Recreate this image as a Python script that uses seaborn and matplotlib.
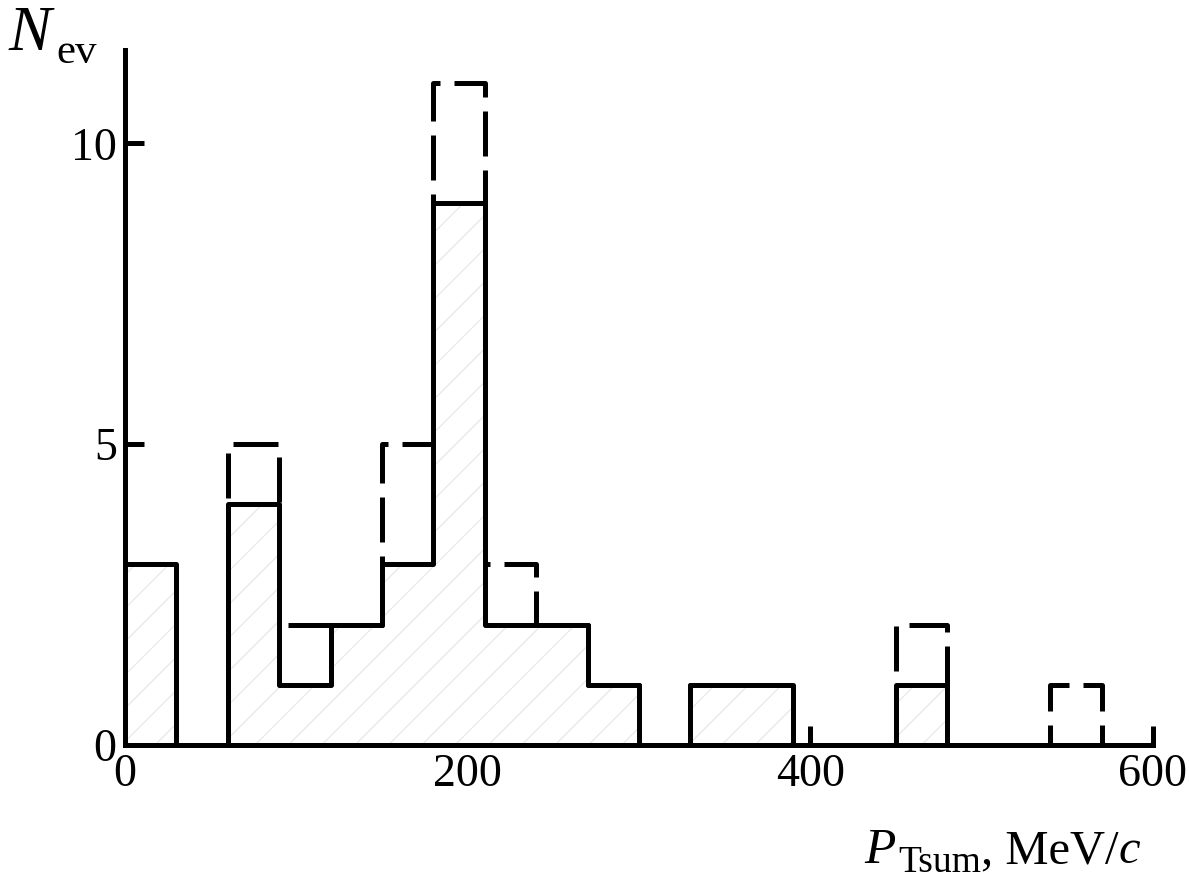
import numpy as np
import pandas as pd
import matplotlib
matplotlib.use('Agg')
import matplotlib.pyplot as plt
import seaborn as sns

# bins of 30 MeV/c from 0 to 600
bin_edges = list(range(0, 601, 30))
bin_centers = [e + 15 for e in bin_edges[:-1]]
solid_counts = [3, 0, 4, 1, 2, 3, 9, 2, 2, 1, 0, 1, 1, 0, 0, 1, 0, 0, 0, 0]
dashed_counts = [3, 0, 5, 2, 2, 5, 11, 3, 2, 1, 0, 1, 1, 0, 0, 2, 0, 0, 1, 0]
x_ticks = [0, 200, 400, 600]
y_ticks = [0, 5, 10]

df = pd.DataFrame({'p': bin_centers, 'solid': solid_counts, 'dashed': dashed_counts})

sns.set_style('ticks')
plt.rcParams['font.family'] = ['Liberation Serif', 'DejaVu Serif']
plt.rcParams['text.color'] = 'black'
plt.rcParams['hatch.color'] = '#e8e8e8'
plt.rcParams['hatch.linewidth'] = 0.9

W, H = 1189, 883
fig = plt.figure(figsize=(W / 100, H / 100), dpi=100)
ax = fig.add_axes([125 / W, 138 / H, 1028 / W, 695 / H])

lw = 3.6
# hatched fill under the solid histogram
sns.histplot(data=df, x='p', weights='solid', bins=bin_edges, element='step',
             fill=True, facecolor='white', edgecolor='#e8e8e8', linewidth=0,
             hatch='/', alpha=1, ax=ax)
# dashed histogram
sns.histplot(data=df, x='p', weights='dashed', bins=bin_edges, element='step',
             fill=False, color='black', linewidth=lw, linestyle=(0, (9, 2.8)),
             ax=ax)
# solid histogram
sns.histplot(data=df, x='p', weights='solid', bins=bin_edges, element='step',
             fill=False, color='black', linewidth=lw, ax=ax)

ax.set_xlim(0, 600)
ax.set_ylim(0, 11.55)
ax.set_xticks(x_ticks)
ax.set_yticks(y_ticks)
ax.set_xlabel('')
ax.set_ylabel('')
sns.despine(ax=ax)
for s in ['left', 'bottom']:
    ax.spines[s].set_linewidth(lw)
    ax.spines[s].set_color('black')
ax.tick_params(direction='in', length=14, width=lw, labelsize=33, pad=6, colors='black')
ax.grid(False)


def text_chain(x_px, y_px, pieces):
    # pieces: (text, fontsize, style, baseline shift in px, gap before in px)
    renderer = fig.canvas.get_renderer()
    x = x_px
    for s, size, style, dy, gap in pieces:
        t = fig.text((x + gap) / W, 1 - (y_px + dy) / H, s, fontsize=size, style=style,
                     ha='left', va='baseline', color='black')
        bb = t.get_window_extent(renderer)
        x = bb.x1


text_chain(8, 50, [('N', 46, 'italic', 0, 0), ('ev', 31, 'normal', 13, 6)])
text_chain(864, 863, [('P', 37, 'italic', 0, 0), ('Tsum', 27, 'normal', 9, 3),
                      (', MeV/', 35, 'normal', 0, 0), ('c', 35, 'italic', 0, 0)])

fig.savefig('out.png', dpi=100)
